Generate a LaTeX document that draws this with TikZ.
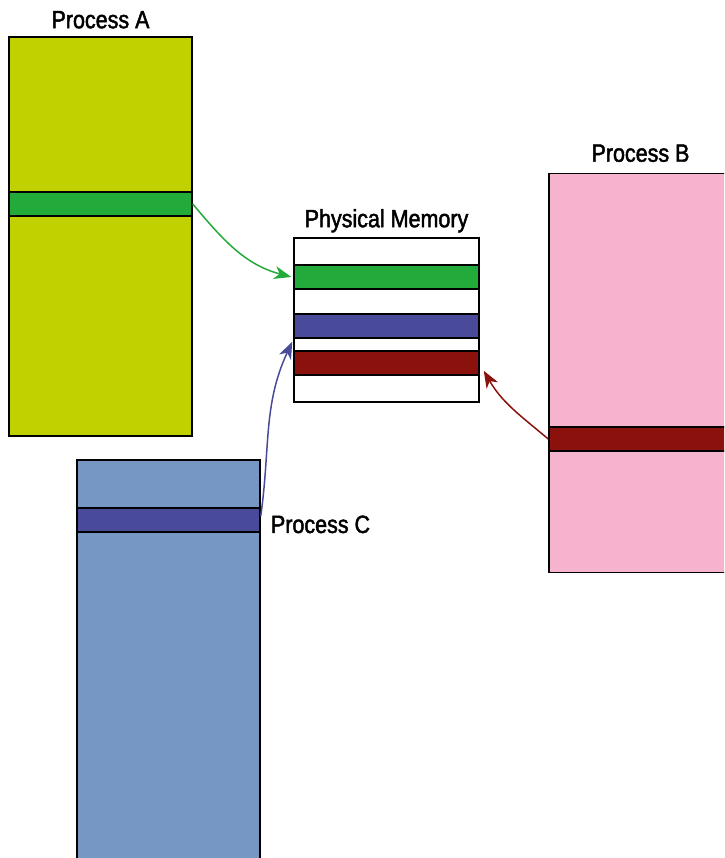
\documentclass[tikz,border=0pt]{standalone}
\usepackage{fontspec}
\setmainfont[FakeStretch=0.86,FakeBold=1.8]{Liberation Sans}
\usetikzlibrary{positioning,arrows.meta}

\definecolor{limeA}{RGB}{193,209,0}
\definecolor{pinkB}{RGB}{245,179,206}
\definecolor{steelC}{RGB}{118,151,195}
\definecolor{pageGreen}{RGB}{34,170,58}
\definecolor{pageBlue}{RGB}{74,74,155}
\definecolor{pageRed}{RGB}{139,18,12}

\begin{document}
\begin{tikzpicture}[x=1pt,y=1pt,
    proc/.style={draw=black, line width=1.5pt, minimum width=183pt, minimum height=399pt, inner sep=0pt},
    page/.style={draw=black, line width=1.5pt, minimum width=183pt, minimum height=24pt, inner sep=0pt},
    lbl/.style={font=\fontsize{25}{30}\selectfont, inner sep=0pt},
    link/.style={line width=1.5pt, -{Stealth[length=17pt,width=13pt,inset=5pt]}}]
    \path[use as bounding box, clip] (0,0) rectangle (724,858);

    % processes
    \node[proc, fill=limeA]  (procA) at (100.5,621.5) {};
    \node[proc, fill=pinkB]  (procB) at (640.5,485) {};
    \node[proc, fill=steelC] (procC) at (168.5,198.5) {};
    \node[page, fill=pageGreen] (pageA) at (100.5,654) {};
    \node[page, fill=pageRed]   (pageB) at (640.5,419) {};
    \node[page, fill=pageBlue]  (pageC) at (168.5,338) {};

    % physical memory
    \node[proc, fill=white, minimum width=185pt, minimum height=164pt] (memory) at (386.5,538) {};
    \node[page, fill=pageGreen, minimum width=185pt] (memG) at (386.5,581) {};
    \node[page, fill=pageBlue,  minimum width=185pt] (memB) at (386.5,532) {};
    \node[page, fill=pageRed,   minimum width=185pt] (memR) at (386.5,495) {};

    % labels
    \node[lbl, anchor=base] (labA) at ([yshift=8pt]procA.north) {Process A};
    \node[lbl, anchor=base] (labB) at ([yshift=11pt]procB.north) {Process B};
    \node[lbl, anchor=base] (labM) at ([yshift=10pt]memory.north) {Physical Memory};
    \node[lbl, anchor=base west] (labC) at ([xshift=10pt,yshift=-13pt]pageC.east) {Process C};

    % mappings
    \draw[link, draw=pageGreen] (pageA.east) to[out=-50, in=165] ([xshift=-2pt]memG.west);
    \draw[link, draw=pageBlue] ([yshift=4pt]pageC.east) to[out=82, in=-115] ([xshift=-1pt,yshift=-3pt]memB.south west);
    \draw[link, draw=pageRed] (pageB.west) to[out=140, in=-60] ([xshift=4pt,yshift=5pt]memR.south east);
\end{tikzpicture}
\end{document}
